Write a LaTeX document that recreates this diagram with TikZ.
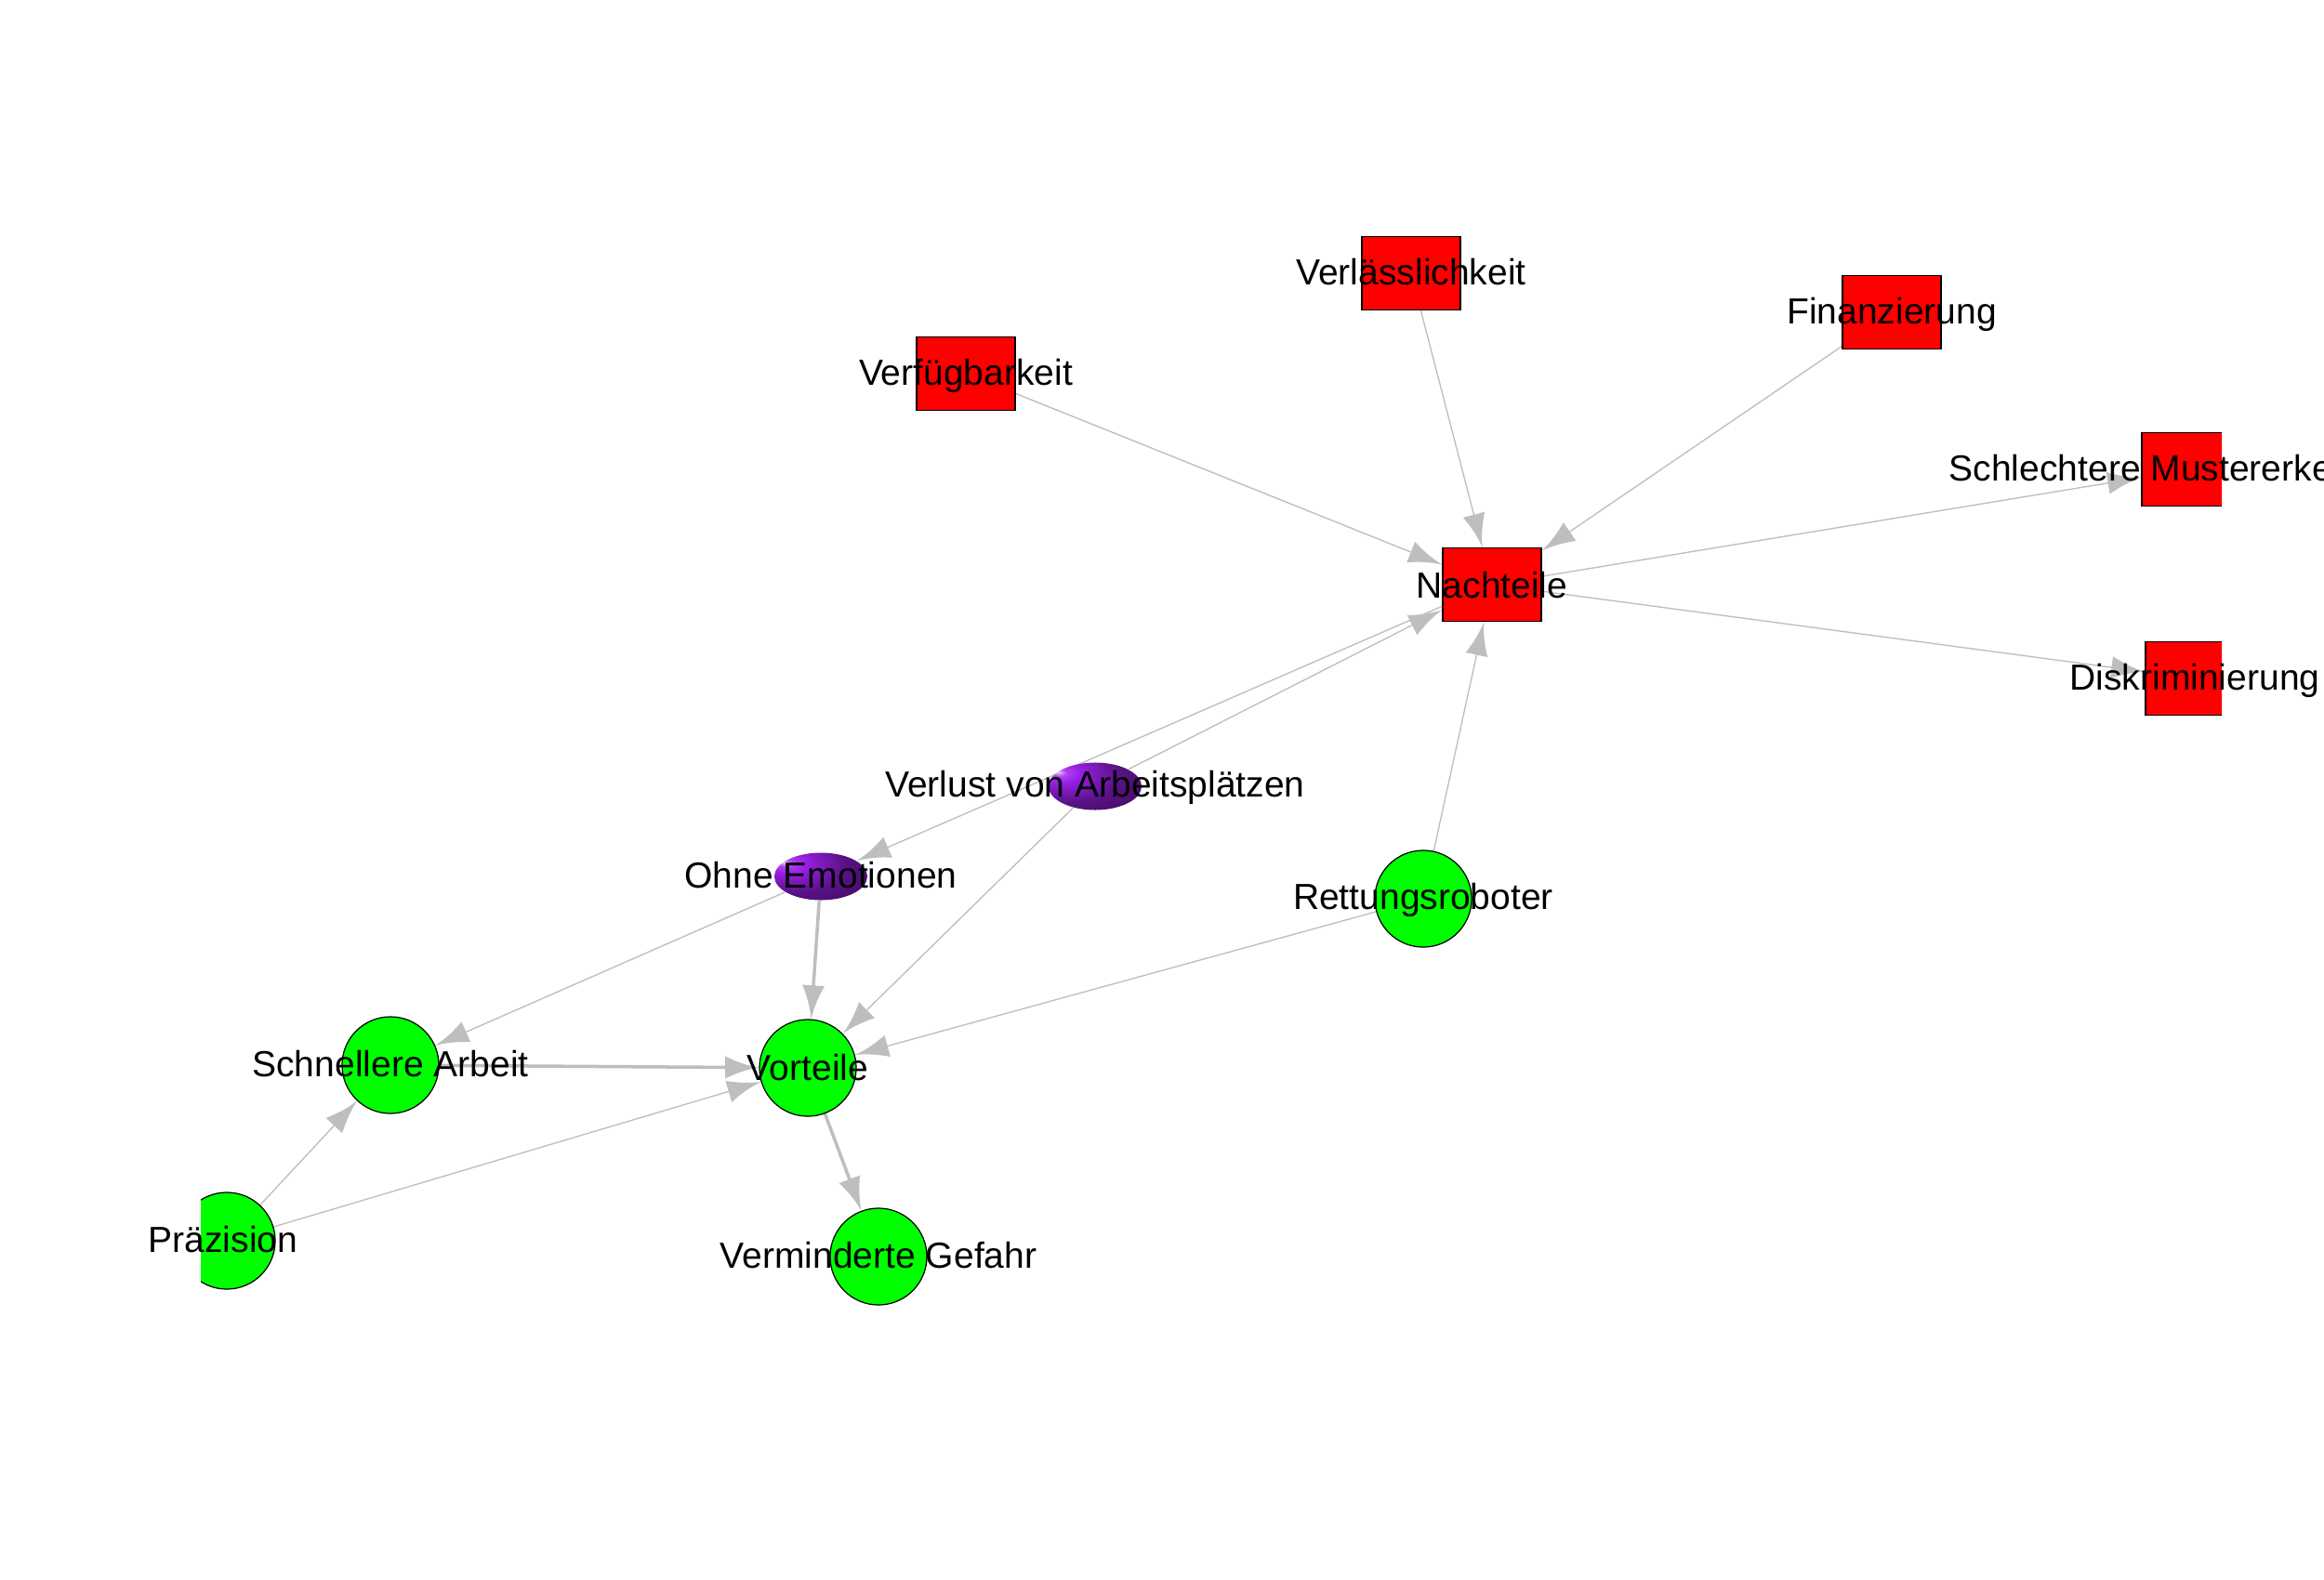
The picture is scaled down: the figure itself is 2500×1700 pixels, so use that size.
\documentclass[tikz,border=0pt]{standalone}
\usepackage{fontspec}
\setmainfont{Liberation Sans}
\usetikzlibrary{arrows.meta,shapes.geometric}
\definecolor{edgegray}{HTML}{BEBEBE}
\definecolor{purp}{HTML}{A020F0}
\definecolor{vgreen}{HTML}{00FF00}
\definecolor{vred}{HTML}{FF0000}
\pgfdeclarelayer{edgelayer}
\pgfsetlayers{edgelayer,main}
\pgfdeclareradialshading{igsphere}{\pgfpoint{-20bp}{15bp}}{color(0bp)=(purp!25!white); color(4bp)=(purp!85!white); color(10bp)=(purp!95!black); color(28bp)=(purp!55!black); color(45bp)=(purp!42!black); color(100bp)=(purp!40!black)}
\pgfdeclarearrow{
  name = IG,
  parameters = {\the\pgfarrowlength,\the\pgfarrowwidth},
  setup code = {
    \pgfarrowssettipend{\pgfarrowlength}
    \pgfarrowssetbackend{0pt}
    \pgfarrowssetlineend{0.3\pgfarrowlength}
    \pgfarrowssavethe\pgfarrowlength
    \pgfarrowssavethe\pgfarrowwidth
  },
  drawing code = {
    \pgfpathmoveto{\pgfqpoint{\pgfarrowlength}{0pt}}
    \pgfpathcurveto{\pgfqpoint{0.6\pgfarrowlength}{0.1\pgfarrowwidth}}{\pgfqpoint{0.3\pgfarrowlength}{0.28\pgfarrowwidth}}{\pgfqpoint{0pt}{0.5\pgfarrowwidth}}
    \pgfpathlineto{\pgfqpoint{0pt}{-0.5\pgfarrowwidth}}
    \pgfpathcurveto{\pgfqpoint{0.3\pgfarrowlength}{-0.28\pgfarrowwidth}}{\pgfqpoint{0.6\pgfarrowlength}{-0.1\pgfarrowwidth}}{\pgfqpoint{\pgfarrowlength}{0pt}}
    \pgfpathclose
    \pgfusepathqfill
  },
  defaults = {length = 10.3pt, width = 6.8pt}
}
\tikzset{
  vbox/.style={rectangle, draw=black, line width=0.35pt, fill=vred, minimum width=1.06cm, minimum height=0.79cm, inner sep=0pt},
  vcirc/.style={circle, draw=black, line width=0.35pt, fill=vgreen, minimum size=1.04cm, inner sep=0pt},
  vell/.style={ellipse, shade, shading=igsphere, minimum width=1cm, minimum height=0.51cm, inner sep=0pt},
  lbl/.style={anchor=base, inner sep=0pt, font=\fontsize{11.1pt}{13pt}\selectfont},
  thinedge/.style={draw=edgegray, line width=0.38pt, -{IG}},
  thickedge/.style={draw=edgegray, line width=1pt, -{IG}}
}
\begin{document}
\begin{tikzpicture}[x=0.01cm, y=-0.01cm]
\useasboundingbox (0,0) rectangle (2500,1700);
\begin{scope}
\clip (216,0) rectangle (2390,1700);
\node[vbox] (verf) at (1039,402) {};
\node[vbox] (verl) at (1518,294) {};
\node[vbox] (fin) at (2035,336) {};
\node[vbox] (nach) at (1605,629) {};
\node[vbox] (schl) at (2357,505) {};
\node[vbox] (disk) at (2361,730) {};
\node[vell] (verlust) at (1178,846) {};
\node[vell] (ohne) at (883,943) {};
\node[vcirc] (rett) at (1531,967) {};
\node[vcirc] (schn) at (420,1146) {};
\node[vcirc] (vort) at (869,1149) {};
\node[vcirc] (praez) at (244,1335) {};
\node[vcirc] (verm) at (945,1352) {};
\end{scope}
\begin{pgfonlayer}{edgelayer}
\fill[white] (0,0) rectangle (2500,1700);
\draw[thinedge] (verf) -- (nach);
\draw[thinedge] (verl) -- (nach);
\draw[thinedge] (fin) -- (nach);
\draw[thinedge] (nach) -- (schl);
\draw[thinedge] (nach) -- (disk);
\draw[thinedge] (nach) -- (ohne);
\draw[thinedge] (verlust) -- (nach);
\draw[thinedge] (verlust) -- (vort);
\draw[thickedge] (ohne) -- (vort);
\draw[thinedge] (ohne) -- (schn);
\draw[thinedge] (rett) -- (nach);
\draw[thinedge] (rett) -- (vort);
\draw[thickedge] (schn) -- (vort);
\draw[thinedge] (praez) -- (schn);
\draw[thinedge] (praez) -- (vort);
\draw[thickedge] (vort) -- (verm);
\end{pgfonlayer}
\begin{scope}
\clip (0,0) rectangle (2500,1700);
\node[lbl] (lverf) at (1039,414) {Verfügbarkeit};
\node[lbl] (lverl) at (1518,307) {Verlässlichkeit};
\node[lbl] (lfin) at (2035,348) {Finanzierung};
\node[lbl] (lnach) at (1605,643) {Nachteile};
\node[lbl] (lschl) at (2357,517) {Schlechtere Mustererkennung};
\node[lbl] (ldisk) at (2361,742) {Diskriminierung};
\node[lbl] (lverlust) at (1178,857) {Verlust von Arbeitsplätzen};
\node[lbl] (lohne) at (883,955) {Ohne Emotionen};
\node[lbl] (lrett) at (1531,978) {Rettungsroboter};
\node[lbl] (lschn) at (420,1158) {Schnellere Arbeit};
\node[lbl] (lvort) at (869,1162) {Vorteile};
\node[lbl] (lpraez) at (240,1347) {Präzision};
\node[lbl] (lverm) at (945,1364) {Verminderte Gefahr};
\end{scope}
\end{tikzpicture}
\end{document}
